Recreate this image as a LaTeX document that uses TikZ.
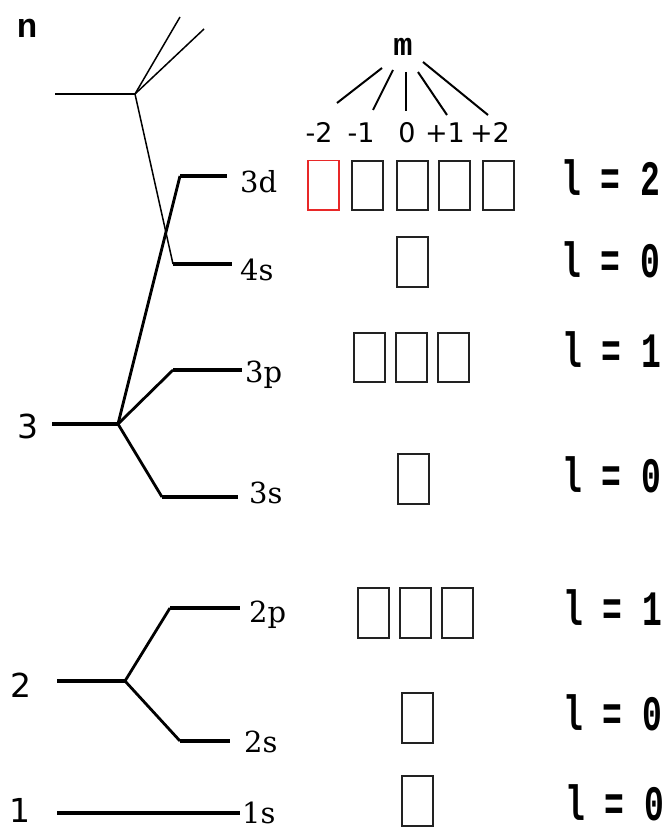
\documentclass[tikz,border=0pt]{standalone}
\usepackage{fontspec}
\usepackage{graphicx}
\newfontfamily\monofnt{Liberation Mono}
\newfontfamily\subfnt{DejaVu Serif}
\newfontfamily\numfnt{DejaVu Sans}
\definecolor{boxgray}{HTML}{222222}
\definecolor{boxred}{HTML}{E82828}
\begin{document}
\begin{tikzpicture}[x=1pt,y=-1pt,
  orb/.style={draw=boxgray, line width=1.8pt, minimum width=31pt, minimum height=49pt, inner sep=0pt, anchor=north west},
  lval/.style={anchor=base west, inner sep=0pt, font=\monofnt\bfseries\fontsize{33}{33}\selectfont},
  sublab/.style={anchor=base west, inner sep=0pt, font=\subfnt\fontsize{29}{29}\selectfont},
  nlab/.style={anchor=base, inner sep=0pt, font=\numfnt\fontsize{33}{33}\selectfont},
  mlab/.style={anchor=base, inner sep=0pt, font=\numfnt\fontsize{27}{27}\selectfont},
  level/.style={line width=4pt},
  branch/.style={line width=2.8pt},
  thinline/.style={line width=1.5pt},
  mline/.style={line width=2pt}
]
\useasboundingbox (0,0) rectangle (668,829);

% headings
\node[inner sep=0pt, font=\monofnt\bfseries\fontsize{34}{34}\selectfont] (nhead) at (27,28) {n};
\node[inner sep=0pt, font=\monofnt\bfseries\fontsize{32}{32}\selectfont] (mhead) at (403,47) {m};

% m values
\node[mlab] (mm2) at (319,143) {-2};
\node[mlab] (mm1) at (361,143) {-1};
\node[mlab] (m0) at (407,143) {0};
\node[mlab] (mp1) at (445,143) {+1};
\node[mlab] (mp2) at (490,143) {+2};

\coordinate (ma1) at (382,68); \coordinate (mb1) at (337,103);
\coordinate (ma2) at (393,70); \coordinate (mb2) at (373,110);
\coordinate (ma3) at (406,72); \coordinate (mb3) at (406,111);
\coordinate (ma4) at (418,72); \coordinate (mb4) at (447,115);
\coordinate (ma5) at (423,62); \coordinate (mb5) at (488,115);
\draw[mline] (ma1) -- (mb1);
\draw[mline] (ma2) -- (mb2);
\draw[mline] (ma3) -- (mb3);
\draw[mline] (ma4) -- (mb4);
\draw[mline] (ma5) -- (mb5);

% n labels
\node[nlab] (n3lab) at (28,438) {3};
\node[nlab] (n2lab) at (21,697) {2};
\node[nlab] (n1lab) at (20,822) {1};

% coordinates of the tree
\coordinate (top) at (135,94);
\coordinate (topL) at (55,94);
\coordinate (topA) at (180,17);
\coordinate (topB) at (204,29);
\coordinate (s4a) at (173,264); \coordinate (s4b) at (232,264);
\coordinate (n3) at (118,424); \coordinate (n3L) at (52,424);
\coordinate (d3a) at (180,176); \coordinate (d3b) at (227,176);
\coordinate (p3a) at (173,370); \coordinate (p3b) at (242,370);
\coordinate (s3a) at (162,497); \coordinate (s3b) at (238,497);
\coordinate (n2) at (125,681); \coordinate (n2L) at (57,681);
\coordinate (p2a) at (170,608); \coordinate (p2b) at (240,608);
\coordinate (s2a) at (180,741); \coordinate (s2b) at (230,741);
\coordinate (n1L) at (57,813); \coordinate (s1b) at (240,813);

% n = 4 level
\draw[branch] (topL) -- (top);
\draw[thinline] (top) -- (topA);
\draw[thinline] (top) -- (topB);
\draw[thinline] (top) -- (s4a);
\draw[level] (s4a) -- (s4b);

% n = 3
\draw[level] (n3L) -- (n3);
\draw[branch] (n3) -- (d3a);
\draw[level] (d3a) -- (d3b);
\draw[branch] (n3) -- (p3a);
\draw[level] (p3a) -- (p3b);
\draw[branch] (n3) -- (s3a);
\draw[level] (s3a) -- (s3b);

% n = 2
\draw[level] (n2L) -- (n2);
\draw[branch] (n2) -- (p2a);
\draw[level] (p2a) -- (p2b);
\draw[branch] (n2) -- (s2a);
\draw[level] (s2a) -- (s2b);

% n = 1
\draw[level] (n1L) -- (s1b);

% subshell labels
\node[sublab] (l3d) at (240,193) {3d};
\node[sublab] (l4s) at (240,280) {4s};
\node[sublab] (l3p) at (245,382) {3p};
\node[sublab] (l3s) at (249,503) {3s};
\node[sublab] (l2p) at (249,622) {2p};
\node[sublab] (l2s) at (244,752) {2s};
\node[sublab] (l1s) at (242,823) {1s};

% orbital boxes
\node[orb, draw=boxred, line width=1.5pt] (b3d1) at (307,160) {};
\node[orb] (b3d2) at (351,160) {};
\node[orb] (b3d3) at (396,160) {};
\node[orb] (b3d4) at (438,160) {};
\node[orb] (b3d5) at (482,160) {};

\node[orb, minimum height=50pt] (b4s) at (396,236) {};

\node[orb] (b3p1) at (353,332) {};
\node[orb] (b3p2) at (395,332) {};
\node[orb] (b3p3) at (437,332) {};

\node[orb, minimum height=50pt] (b3s) at (397,453) {};

\node[orb, minimum height=50pt] (b2p1) at (357,587) {};
\node[orb, minimum height=50pt] (b2p2) at (399,587) {};
\node[orb, minimum height=50pt] (b2p3) at (441,587) {};

\node[orb, minimum height=50pt] (b2s) at (401,692) {};
\node[orb, minimum height=50pt] (b1s) at (401,775) {};

% l values
\node[lval] (v3d) at (561,195) {\scalebox{1}[1.5]{l = 2}};
\node[lval] (v4s) at (561,277) {\scalebox{1}[1.5]{l = 0}};
\node[lval] (v3p) at (562,367) {\scalebox{1}[1.5]{l = 1}};
\node[lval] (v3s) at (562,492) {\scalebox{1}[1.5]{l = 0}};
\node[lval] (v2p) at (563,625) {\scalebox{1}[1.5]{l = 1}};
\node[lval] (v2s) at (563,730) {\scalebox{1}[1.5]{l = 0}};
\node[lval] (v1s) at (565,820) {\scalebox{1}[1.5]{l = 0}};
\end{tikzpicture}
\end{document}
